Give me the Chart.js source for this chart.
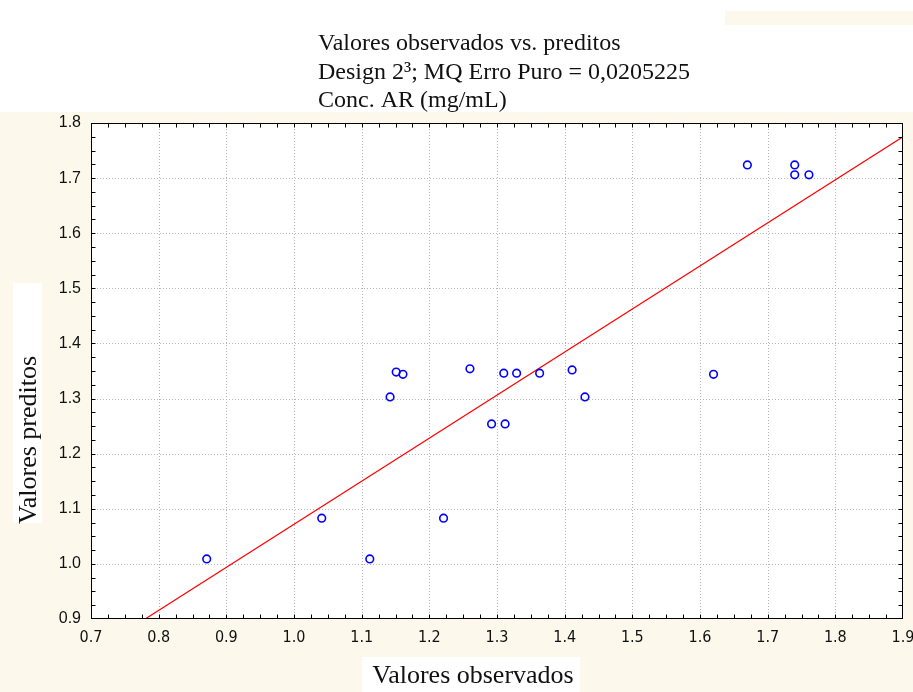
<!DOCTYPE html>
<html>
<head>
<meta charset="utf-8">
<script src="https://cdn.jsdelivr.net/npm/chart.js@4/dist/chart.umd.min.js"></script>
<style>
  html, body { margin: 0; padding: 0; background: #ffffff; }
  #c { display: block; }
</style>
</head>
<body>
<canvas id="c" width="913" height="692"></canvas>
<script>
// Observed vs. predicted values, Conc. AR (mg/mL)
const observed  = [0.871, 1.041, 1.112, 1.221, 1.142, 1.151, 1.161, 1.260, 1.292, 1.312,
                   1.310, 1.329, 1.363, 1.411, 1.430, 1.620, 1.670, 1.740, 1.740, 1.761];
const predicted = [1.009, 1.083, 1.009, 1.083, 1.303, 1.348, 1.344, 1.354, 1.254, 1.254,
                   1.346, 1.346, 1.346, 1.352, 1.303, 1.344, 1.724, 1.724, 1.706, 1.706];

// Fitted line end points
const fitX = [0.78, 1.90];
const fitY = [0.90, 1.775];

// Axis ranges and ticks
const xRange = [0.7, 1.9];
const yRange = [0.9, 1.8];
const majorStep = 0.1;
const minorStep = 0.025;

const titleLines = [
  'Valores observados vs. preditos',
  'Design 2\u00B3; MQ Erro Puro = 0,0205225',
  'Conc. AR (mg/mL)'
];
const xTitle = 'Valores observados';
const yTitle = 'Valores preditos';

const CREAM = '#fdf8ec';
const SERIF = '"Liberation Serif", "Times New Roman", serif';
const SANS = '"Liberation Sans", Arial, sans-serif';
const NARROW = '"Liberation Sans Narrow", "DejaVu Sans Condensed", "Liberation Sans", Arial, sans-serif';

const decor = {
  id: 'decor',
  beforeDraw(chart) {
    const { ctx, chartArea: a, width, height } = chart;
    ctx.save();
    ctx.fillStyle = CREAM;
    ctx.fillRect(0, 0, width, height);
    ctx.fillStyle = '#ffffff';
    ctx.fillRect(0, 0, width, 112);
    ctx.fillRect(13, 283, 29, 240);
    ctx.fillRect(362, 657, 218, 35);
    ctx.fillRect(a.left, a.top, a.right - a.left, a.bottom - a.top);
    ctx.fillStyle = CREAM;
    ctx.fillRect(725, 11, width - 725, 14);
    ctx.restore();
  },
  beforeDatasetsDraw(chart) {
    const { ctx, chartArea: a, scales } = chart;
    ctx.save();
    ctx.strokeStyle = '#b4b4b4';
    ctx.lineWidth = 1;
    ctx.setLineDash([1, 2]);
    const nx = Math.round((xRange[1] - xRange[0]) / majorStep);
    for (let i = 1; i < nx; i++) {
      const px = Math.round(scales.x.getPixelForValue(xRange[0] + i * majorStep)) + 0.5;
      ctx.beginPath(); ctx.moveTo(px, a.top); ctx.lineTo(px, a.bottom); ctx.stroke();
    }
    const ny = Math.round((yRange[1] - yRange[0]) / majorStep);
    for (let i = 1; i < ny; i++) {
      const py = Math.round(scales.y.getPixelForValue(yRange[0] + i * majorStep)) + 0.5;
      ctx.beginPath(); ctx.moveTo(a.left, py); ctx.lineTo(a.right, py); ctx.stroke();
    }
    ctx.restore();
  },
  afterDatasetsDraw(chart) {
    const { ctx, chartArea: a, scales } = chart;
    ctx.save();
    ctx.strokeStyle = '#000000';
    ctx.lineWidth = 1;
    ctx.setLineDash([]);
    const L = Math.round(a.left) + 0.5, R = Math.round(a.right) - 0.5;
    const T = Math.round(a.top) + 0.5, B = Math.round(a.bottom) - 0.5;
    ctx.strokeRect(L, T, R - L, B - T);
    const tl = 4;
    const nx = Math.round((xRange[1] - xRange[0]) / minorStep);
    for (let i = 1; i < nx; i++) {
      const px = Math.round(scales.x.getPixelForValue(xRange[0] + i * minorStep)) + 0.5;
      ctx.beginPath();
      ctx.moveTo(px, T); ctx.lineTo(px, T + tl);
      ctx.moveTo(px, B); ctx.lineTo(px, B - tl);
      ctx.stroke();
    }
    const ny = Math.round((yRange[1] - yRange[0]) / minorStep);
    for (let i = 1; i < ny; i++) {
      const py = Math.round(scales.y.getPixelForValue(yRange[0] + i * minorStep)) + 0.5;
      ctx.beginPath();
      ctx.moveTo(L, py); ctx.lineTo(L + tl, py);
      ctx.moveTo(R, py); ctx.lineTo(R - tl, py);
      ctx.stroke();
    }
    ctx.restore();
  },
  afterDraw(chart) {
    const { ctx } = chart;
    ctx.save();
    ctx.fillStyle = '#111111';
    ctx.font = '24px ' + SERIF;
    ctx.textBaseline = 'middle';
    ctx.textAlign = 'left';
    titleLines.forEach((t, i) => ctx.fillText(t, 318, 44 + i * 28.5));
    ctx.font = '26px ' + SERIF;
    ctx.textAlign = 'center';
    ctx.fillText(xTitle, 473, 676);
    ctx.translate(29, 440);
    ctx.rotate(-Math.PI / 2);
    ctx.fillText(yTitle, 0, 0);
    ctx.restore();
  }
};

new Chart(document.getElementById('c'), {
  type: 'scatter',
  data: {
    datasets: [
      {
        label: 'Observados vs. preditos',
        data: observed.map((x, i) => ({ x, y: predicted[i] })),
        pointStyle: 'circle',
        pointRadius: 3.8,
        pointBorderWidth: 1.6,
        pointBorderColor: '#0000ff',
        pointBackgroundColor: 'rgba(0,0,0,0)',
        showLine: false,
        order: 1
      },
      {
        type: 'line',
        label: 'Ajuste',
        data: fitX.map((x, i) => ({ x, y: fitY[i] })),
        borderColor: '#ff0000',
        borderWidth: 1.2,
        pointRadius: 0,
        fill: false,
        order: 2
      }
    ]
  },
  options: {
    responsive: false,
    animation: false,
    layout: { padding: { left: 0, top: 123, right: 10, bottom: 0 } },
    plugins: {
      legend: { display: false },
      tooltip: { enabled: false },
      title: { display: false }
    },
    scales: {
      x: {
        type: 'linear',
        min: xRange[0], max: xRange[1],
        afterFit(s) { s.height = 73; s.paddingLeft = 0; s.paddingRight = 0; },
        afterBuildTicks(s) {
          const n = Math.round((xRange[1] - xRange[0]) / majorStep);
          s.ticks = Array.from({ length: n + 1 }, (_, i) => ({ value: +(xRange[0] + i * majorStep).toFixed(2) }));
        },
        grid: { display: false, drawTicks: false },
        border: { display: false },
        ticks: {
          color: '#111111',
          font: { family: NARROW, size: 16 },
          padding: 9,
          maxRotation: 0,
          autoSkip: false,
          callback: v => v.toFixed(1)
        }
      },
      y: {
        type: 'linear',
        min: yRange[0], max: yRange[1],
        afterFit(s) { s.width = 91; s.paddingTop = 0; s.paddingBottom = 0; },
        afterBuildTicks(s) {
          const n = Math.round((yRange[1] - yRange[0]) / majorStep);
          s.ticks = Array.from({ length: n + 1 }, (_, i) => ({ value: +(yRange[0] + i * majorStep).toFixed(2) }));
        },
        grid: { display: false, drawTicks: false },
        border: { display: false },
        ticks: {
          color: '#111111',
          font: { family: SANS, size: 16 },
          padding: 10,
          autoSkip: false,
          callback: v => v.toFixed(1)
        }
      }
    }
  },
  plugins: [decor]
});
</script>
</body>
</html>
